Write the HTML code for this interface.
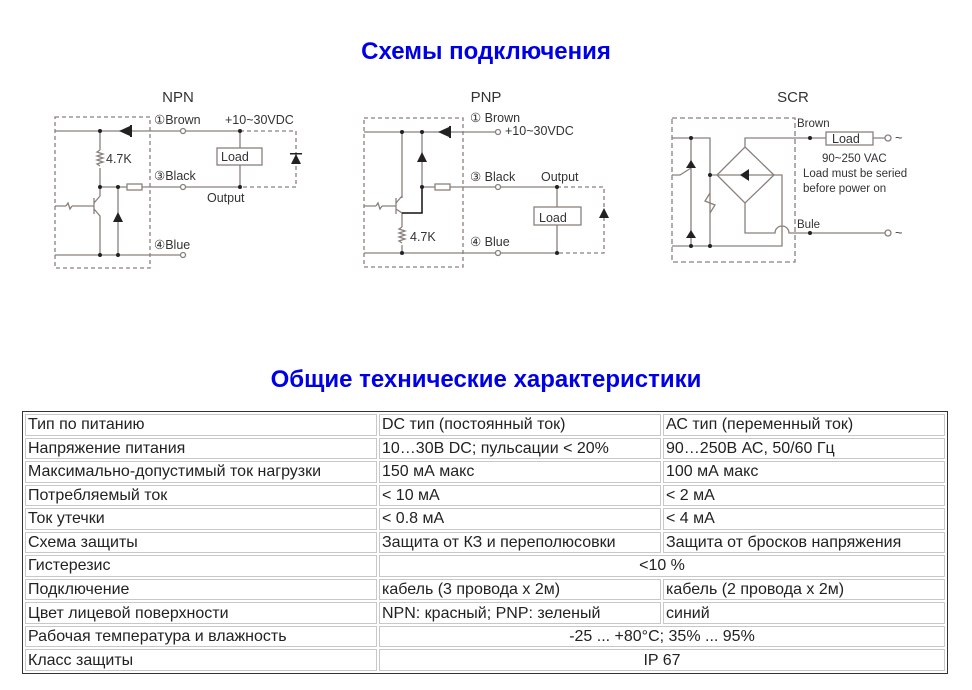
<!DOCTYPE html>
<html><head><meta charset="utf-8"><style>
body{margin:0;background:#fff;width:972px;height:690px;position:relative;overflow:hidden;font-family:"Liberation Sans",Arial,sans-serif}
.h{position:absolute;left:0;width:972px;text-align:center;color:#0000e6;font-weight:bold;font-size:24px}
table{position:absolute;left:22px;top:411px;width:926px;height:263px;border:1px solid #333;border-spacing:2px;table-layout:fixed;font-size:16px;color:#222}
td{border:1px solid #c8c8c8;padding:0 2px;height:19px;line-height:19px;white-space:nowrap;overflow:hidden}
.c{text-align:center}
svg{position:absolute;left:0;top:0}
</style></head><body>
<div class="h" style="top:38px">Схемы подключения</div>
<div class="h" style="top:366px">Общие технические характеристики</div>
<svg width="972" height="300" font-family="Liberation Sans,Arial,sans-serif">
<g fill="#333" font-size="15" text-anchor="middle"><text x="178" y="102">NPN</text><text x="486" y="102">PNP</text><text x="793" y="102">SCR</text></g>
<g stroke="#8a807b" stroke-width="1.3" fill="none">
<rect x="55" y="117" width="95" height="151" stroke-dasharray="4,3"/>
<path d="M55 131H240"/>
<path d="M240 131H296V187H240" stroke-dasharray="4,3"/>
<path d="M240 131V148M240 165V187M100 131V150M100 168V187"/>
<path d="M100 150l-3 2 6 2-6 2 6 2-6 2 6 2-6 2 3 2"/>
<path d="M100 187H127M142 187H240M100 187V196M94 198V214M94 203L100 196M94 209L100 216V255M55 206H66M72 206H94M118 187V255M55 255H180"/>
<path d="M66 206l2-3 2 6 2-3"/>
<rect x="127" y="184" width="15" height="6"/>
<rect x="217" y="148" width="45" height="17"/>
<circle cx="183" cy="131" r="2.5" fill="#fff"/><circle cx="183" cy="187" r="2.5" fill="#fff"/><circle cx="183" cy="255" r="2.5" fill="#fff"/>
<rect x="364" y="118" width="99" height="149" stroke-dasharray="4,3"/>
<path d="M364 132H496M422 132V187H435M450 187H496M500 187H557M402 132V198M396 198V214M396 203L402 196M396 209L402 213V227M402 245V253M364 206H376M382 206H396M364 253H496M500 253H557M557 187V207M557 225V253"/>
<path d="M376 206l2-3 2 6 2-3"/>
<path d="M402 227l-3 2 6 2-6 2 6 2-6 2 6 2-6 2 3 2"/>
<path d="M557 187H604V253H557" stroke-dasharray="4,3"/>
<rect x="435" y="184" width="15" height="6"/>
<rect x="534" y="207" width="47" height="18"/>
<circle cx="498" cy="132" r="2.5" fill="#fff"/><circle cx="498" cy="187" r="2.5" fill="#fff"/><circle cx="498" cy="253" r="2.5" fill="#fff"/>
<rect x="672" y="118" width="123" height="144" stroke-dasharray="5,3"/>
<path d="M672 138H710V246M691 138V246M672 246H782V175H774M717 175H710M745 147V138H826M873 138H885M745 147L774 175L745 203L717 175ZM717 175H774M745 203V233H775A7 7 0 0 1 789 233H885M672 175H680L691 168"/>
<path d="M710 193l-5 8 10 4-5 8"/>
<rect x="826" y="132" width="47" height="13"/>
<circle cx="888" cy="138" r="3" fill="#fff"/><circle cx="888" cy="233" r="3" fill="#fff"/>
</g>
<g fill="#222">
<path d="M119 131l11-5v10z"/><rect x="130" y="125" width="2" height="12"/>
<path d="M296 154l-5 10h10z"/><rect x="290" y="153" width="12" height="1.5"/>
<path d="M118 212l-5 10h10z"/>
<path d="M438 132l11-5v10z"/><rect x="449" y="126" width="2" height="12"/>
<path d="M422 152l-5 10h10z"/>
<path d="M604 208l-5 10h10z"/>
<path d="M740 175l9-6v12z"/>
<path d="M691 160l-5 8h10z"/><path d="M691 230l-5 8h10z"/>
<path d="M402 213h20V187" stroke="#111" stroke-width="1.5" fill="none"/>
<circle cx="100" cy="131" r="2"/><circle cx="100" cy="187" r="2"/><circle cx="118" cy="187" r="2"/><circle cx="100" cy="255" r="2"/><circle cx="118" cy="255" r="2"/><circle cx="240" cy="131" r="2"/><circle cx="240" cy="187" r="2"/>
<circle cx="402" cy="132" r="2"/><circle cx="422" cy="132" r="2"/><circle cx="422" cy="187" r="2"/><circle cx="402" cy="253" r="2"/><circle cx="557" cy="187" r="2"/><circle cx="557" cy="253" r="2"/>
<circle cx="691" cy="138" r="2"/><circle cx="710" cy="175" r="2"/><circle cx="691" cy="246" r="2"/><circle cx="710" cy="246" r="2"/><circle cx="810" cy="138" r="2"/><circle cx="810" cy="233" r="2"/>
</g>
<g fill="#333" font-size="12.5">
<text x="154" y="124">①Brown</text><text x="225" y="124">+10~30VDC</text><text x="106" y="163">4.7K</text><text x="221" y="161">Load</text>
<text x="154" y="180">③Black</text><text x="207" y="202">Output</text><text x="154" y="249">④Blue</text>
<text x="470" y="122">① Brown</text><text x="505" y="135">+10~30VDC</text><text x="470" y="181">③ Black</text><text x="541" y="181">Output</text>
<text x="410" y="241">4.7K</text><text x="539" y="222">Load</text><text x="470" y="246">④ Blue</text>
<text x="797" y="127" font-size="11.5">Brown</text><text x="832" y="143">Load</text><text x="895" y="142">~</text><text x="895" y="237">~</text>
<text x="822" y="162" font-size="11.5">90~250 VAC</text><text x="803" y="177" font-size="11.5">Load must be seried</text><text x="803" y="192" font-size="11.5">before power on</text>
<text x="797" y="228" font-size="11.5">Bule</text>
</g>
</svg>
<table>
<colgroup><col style="width:352px"><col style="width:282px"><col></colgroup>
<tr><td>Тип по питанию</td><td>DC тип (постоянный ток)</td><td>АС тип (переменный ток)</td></tr>
<tr><td>Напряжение питания</td><td>10…30В DC; пульсации &lt; 20%</td><td>90…250В АС, 50/60 Гц</td></tr>
<tr><td>Максимально-допустимый ток нагрузки</td><td>150 мА макс</td><td>100 мА макс</td></tr>
<tr><td>Потребляемый ток</td><td>&lt; 10 мА</td><td>&lt; 2 мА</td></tr>
<tr><td>Ток утечки</td><td>&lt; 0.8 мА</td><td>&lt; 4 мА</td></tr>
<tr><td>Схема защиты</td><td>Защита от КЗ и переполюсовки</td><td>Защита от бросков напряжения</td></tr>
<tr><td>Гистерезис</td><td colspan="2" class="c">&lt;10 %</td></tr>
<tr><td>Подключение</td><td>кабель (3 провода х 2м)</td><td>кабель (2 провода х 2м)</td></tr>
<tr><td>Цвет лицевой поверхности</td><td>NPN: красный; PNP: зеленый</td><td>синий</td></tr>
<tr><td>Рабочая температура и влажность</td><td colspan="2" class="c">-25 ... +80°C; 35% ... 95%</td></tr>
<tr><td>Класс защиты</td><td colspan="2" class="c">IP 67</td></tr>
</table>
</body></html>
